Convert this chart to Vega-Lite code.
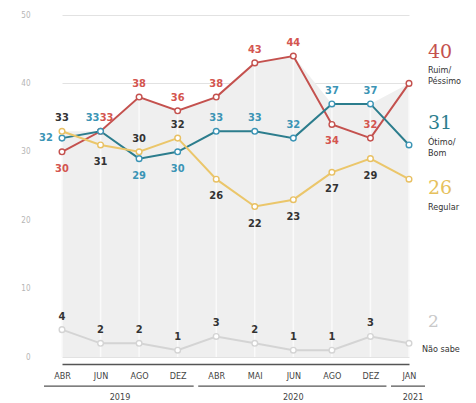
{
  "$schema": "https://vega.github.io/schema/vega-lite/v6.json",
  "autosize": {"type": "none"},
  "padding": {"left": 40, "top": 15, "right": 51, "bottom": 46},
  "width": 385,
  "height": 342,
  "background": "white",
  "config": {"view": {"stroke": null}, "font": "DejaVu Sans Condensed"},
  "datasets": {
    "d": [
      {"m": "ABR 19", "s": "Ruim/Péssimo", "v": 30}, {"m": "JUN 19", "s": "Ruim/Péssimo", "v": 33}, {"m": "AGO 19", "s": "Ruim/Péssimo", "v": 38}, {"m": "DEZ 19", "s": "Ruim/Péssimo", "v": 36}, {"m": "ABR 20", "s": "Ruim/Péssimo", "v": 38}, {"m": "MAI 20", "s": "Ruim/Péssimo", "v": 43}, {"m": "JUN 20", "s": "Ruim/Péssimo", "v": 44}, {"m": "AGO 20", "s": "Ruim/Péssimo", "v": 34}, {"m": "DEZ 20", "s": "Ruim/Péssimo", "v": 32}, {"m": "JAN 21", "s": "Ruim/Péssimo", "v": 40},
      {"m": "ABR 19", "s": "Ótimo/Bom", "v": 32}, {"m": "JUN 19", "s": "Ótimo/Bom", "v": 33}, {"m": "AGO 19", "s": "Ótimo/Bom", "v": 29}, {"m": "DEZ 19", "s": "Ótimo/Bom", "v": 30}, {"m": "ABR 20", "s": "Ótimo/Bom", "v": 33}, {"m": "MAI 20", "s": "Ótimo/Bom", "v": 33}, {"m": "JUN 20", "s": "Ótimo/Bom", "v": 32}, {"m": "AGO 20", "s": "Ótimo/Bom", "v": 37}, {"m": "DEZ 20", "s": "Ótimo/Bom", "v": 37}, {"m": "JAN 21", "s": "Ótimo/Bom", "v": 31},
      {"m": "ABR 19", "s": "Regular", "v": 33}, {"m": "JUN 19", "s": "Regular", "v": 31}, {"m": "AGO 19", "s": "Regular", "v": 30}, {"m": "DEZ 19", "s": "Regular", "v": 32}, {"m": "ABR 20", "s": "Regular", "v": 26}, {"m": "MAI 20", "s": "Regular", "v": 22}, {"m": "JUN 20", "s": "Regular", "v": 23}, {"m": "AGO 20", "s": "Regular", "v": 27}, {"m": "DEZ 20", "s": "Regular", "v": 29}, {"m": "JAN 21", "s": "Regular", "v": 26},
      {"m": "ABR 19", "s": "Não sabe", "v": 4}, {"m": "JUN 19", "s": "Não sabe", "v": 2}, {"m": "AGO 19", "s": "Não sabe", "v": 2}, {"m": "DEZ 19", "s": "Não sabe", "v": 1}, {"m": "ABR 20", "s": "Não sabe", "v": 3}, {"m": "MAI 20", "s": "Não sabe", "v": 2}, {"m": "JUN 20", "s": "Não sabe", "v": 1}, {"m": "AGO 20", "s": "Não sabe", "v": 1}, {"m": "DEZ 20", "s": "Não sabe", "v": 3}, {"m": "JAN 21", "s": "Não sabe", "v": 2}
    ],
    "years": [
      {"year": "2019", "from": "ABR 19", "to": "DEZ 19"},
      {"year": "2020", "from": "ABR 20", "to": "DEZ 20"},
      {"year": "2021", "from": "JAN 21", "to": "JAN 21"}
    ]
  },
  "encoding": {
    "x": {"field": "m", "type": "ordinal",
      "scale": {"type": "point", "padding": 0, "domain": ["ABR 19","JUN 19","AGO 19","DEZ 19","ABR 20","MAI 20","JUN 20","AGO 20","DEZ 20","JAN 21"], "range": [22, 369]},
      "axis": {"title": null, "offset": 7, "domainColor": "#555555", "domainWidth": 1.3, "ticks": false, "grid": false, "labelAngle": 0, "labelFontSize": 9, "labelColor": "#444444", "labelPadding": 7, "labelExpr": "split(datum.value, ' ')[0]"}}
  },
  "layer": [
    {
      "data": {"name": "d"},
      "encoding": {
        "y": {"field": "v", "type": "quantitative", "scale": {"domain": [0, 50], "nice": false},
          "axis": {"title": null, "values": [0,10,20,30,40,50], "domain": false, "ticks": false, "grid": true, "gridColor": "#e2e2e2", "labelColor": "#b5b5b5", "labelFontSize": 8, "labelPadding": 10}}
      },
      "layer": [
        {
          "mark": {"type": "area", "color": "#efefef", "interpolate": "linear"},
          "encoding": {
            "y": {"aggregate": "max", "field": "v", "type": "quantitative"},
            "y2": {"datum": 0}
          }
        },
        {
          "mark": {"type": "rule", "color": "#fafafa", "strokeWidth": 1.5},
          "encoding": {
            "y": {"aggregate": "max", "field": "v", "type": "quantitative"},
            "y2": {"datum": 0}
          }
        },
        {
          "mark": {"type": "line", "strokeWidth": 2},
          "encoding": {
            "color": {"field": "s", "type": "nominal", "legend": null,
              "scale": {"domain": ["Não sabe", "Regular", "Ótimo/Bom", "Ruim/Péssimo"], "range": ["#d4d4d4", "#ebc66a", "#2c7d8d", "#c4514e"]}}
          }
        },
        {
          "mark": {"type": "point", "filled": true, "fill": "white", "size": 32, "strokeWidth": 1.4, "opacity": 1},
          "encoding": {
            "stroke": {"field": "s", "type": "nominal", "legend": null,
              "scale": {"domain": ["Não sabe", "Regular", "Ótimo/Bom", "Ruim/Péssimo"], "range": ["#d4d4d4", "#e8c063", "#3b94b5", "#c4514e"]}}
          }
        },
        {
          "transform": [{"filter": "(datum.s=='Ruim/Péssimo' && datum.m!='ABR 19' && datum.m!='AGO 20' && datum.m!='JAN 21' && datum.m!='JUN 19') || (datum.s=='Ótimo/Bom' && indexof(['ABR 20','MAI 20','JUN 20','AGO 20','DEZ 20'], datum.m)>=0) || (datum.s=='Regular' && indexof(['ABR 19','AGO 19','DEZ 19'], datum.m)>=0) || (datum.s=='Não sabe' && datum.m!='JAN 21')"}],
          "mark": {"type": "text", "dy": -13, "fontSize": 11, "fontWeight": "bold"},
          "encoding": {
            "text": {"field": "v", "type": "quantitative"},
            "color": {"condition": [{"test": "datum.s=='Ruim/Péssimo'", "value": "#d4554f"}, {"test": "datum.s=='Ótimo/Bom'", "value": "#3b94b5"}], "value": "#333333"}
          }
        },
        {
          "transform": [{"filter": "(datum.s=='Ruim/Péssimo' && (datum.m=='ABR 19' || datum.m=='AGO 20')) || (datum.s=='Ótimo/Bom' && (datum.m=='AGO 19' || datum.m=='DEZ 19')) || (datum.s=='Regular' && indexof(['JUN 19','ABR 20','MAI 20','JUN 20','AGO 20','DEZ 20'], datum.m)>=0)"}],
          "mark": {"type": "text", "dy": 17, "fontSize": 11, "fontWeight": "bold"},
          "encoding": {
            "text": {"field": "v", "type": "quantitative"},
            "color": {"condition": [{"test": "datum.s=='Ruim/Péssimo'", "value": "#d4554f"}, {"test": "datum.s=='Ótimo/Bom'", "value": "#3b94b5"}], "value": "#333333"}
          }
        },
        {
          "transform": [{"filter": "datum.s=='Ótimo/Bom' && datum.m=='ABR 19'"}],
          "mark": {"type": "text", "dx": -16, "fontSize": 11, "fontWeight": "bold", "color": "#3b94b5"},
          "encoding": {"text": {"field": "v", "type": "quantitative"}}
        },
        {
          "transform": [{"filter": "datum.s=='Ótimo/Bom' && datum.m=='JUN 19'"}],
          "mark": {"type": "text", "dx": -8, "dy": -13, "fontSize": 11, "fontWeight": "bold", "color": "#3b94b5"},
          "encoding": {"text": {"field": "v", "type": "quantitative"}}
        },
        {
          "transform": [{"filter": "datum.s=='Ruim/Péssimo' && datum.m=='JUN 19'"}],
          "mark": {"type": "text", "dx": 6, "dy": -13, "fontSize": 11, "fontWeight": "bold", "color": "#d4554f"},
          "encoding": {"text": {"field": "v", "type": "quantitative"}}
        },
        {
          "transform": [{"filter": "datum.m=='JAN 21' && datum.s=='Ruim/Péssimo'"}],
          "mark": {"type": "text", "align": "left", "baseline": "middle", "font": "DejaVu Serif", "fontSize": 19, "dx": 19, "dy": -31, "color": "#c4514e"},
          "encoding": {"text": {"field": "v", "type": "quantitative"}}
        },
        {
          "transform": [{"filter": "datum.m=='JAN 21' && datum.s=='Ótimo/Bom'"}],
          "mark": {"type": "text", "align": "left", "baseline": "middle", "font": "DejaVu Serif", "fontSize": 19, "dx": 19, "dy": -22, "color": "#2c7d8d"},
          "encoding": {"text": {"field": "v", "type": "quantitative"}}
        },
        {
          "transform": [{"filter": "datum.m=='JAN 21' && datum.s=='Regular'"}],
          "mark": {"type": "text", "align": "left", "baseline": "middle", "font": "DejaVu Serif", "fontSize": 19, "dx": 19, "dy": 9, "color": "#e6c15c"},
          "encoding": {"text": {"field": "v", "type": "quantitative"}}
        },
        {
          "transform": [{"filter": "datum.m=='JAN 21' && datum.s=='Não sabe'"}],
          "mark": {"type": "text", "align": "left", "baseline": "middle", "font": "DejaVu Serif", "fontSize": 17, "dx": 19, "dy": -21, "color": "#c8c8c8"},
          "encoding": {"text": {"field": "v", "type": "quantitative"}}
        },
        {
          "transform": [{"filter": "datum.m=='JAN 21' && datum.s=='Ruim/Péssimo'"}],
          "mark": {"type": "text", "align": "left", "baseline": "middle", "fontSize": 9, "dx": 19, "dy": -13, "lineHeight": 11, "color": "#333333", "text": ["Ruim/", "Péssimo"]}
        },
        {
          "transform": [{"filter": "datum.m=='JAN 21' && datum.s=='Ótimo/Bom'"}],
          "mark": {"type": "text", "align": "left", "baseline": "middle", "fontSize": 9, "dx": 19, "dy": -3, "lineHeight": 11, "color": "#333333", "text": ["Ótimo/", "Bom"]}
        },
        {
          "transform": [{"filter": "datum.m=='JAN 21' && datum.s=='Regular'"}],
          "mark": {"type": "text", "align": "left", "baseline": "middle", "fontSize": 9, "dx": 19, "dy": 28, "color": "#333333", "text": "Regular"}
        },
        {
          "transform": [{"filter": "datum.m=='JAN 21' && datum.s=='Não sabe'"}],
          "mark": {"type": "text", "align": "left", "baseline": "middle", "fontSize": 9, "dx": 13, "dy": 6, "color": "#333333", "text": "Não sabe"}
        }
      ]
    },
    {
      "data": {"name": "years"},
      "layer": [
        {
          "mark": {"type": "rule", "color": "#555555", "strokeWidth": 1.3, "xOffset": -18, "x2Offset": 16},
          "encoding": {
            "x": {"field": "from", "type": "ordinal"},
            "x2": {"field": "to"},
            "y": {"datum": -4.25, "type": "quantitative"}
          }
        },
        {
          "transform": [{"filter": "datum.year=='2019'"}],
          "mark": {"type": "text", "fontSize": 9, "color": "#444444", "baseline": "middle", "dx": 58},
          "encoding": {"x": {"field": "from", "type": "ordinal"}, "y": {"datum": -5.9, "type": "quantitative"}, "text": {"field": "year", "type": "nominal"}}
        },
        {
          "transform": [{"filter": "datum.year=='2020'"}],
          "mark": {"type": "text", "fontSize": 9, "color": "#444444", "baseline": "middle", "dx": 77},
          "encoding": {"x": {"field": "from", "type": "ordinal"}, "y": {"datum": -5.9, "type": "quantitative"}, "text": {"field": "year", "type": "nominal"}}
        },
        {
          "transform": [{"filter": "datum.year=='2021'"}],
          "mark": {"type": "text", "fontSize": 9, "color": "#444444", "baseline": "middle", "dx": 4},
          "encoding": {"x": {"field": "from", "type": "ordinal"}, "y": {"datum": -5.9, "type": "quantitative"}, "text": {"field": "year", "type": "nominal"}}
        }
      ]
    }
  ]
}
